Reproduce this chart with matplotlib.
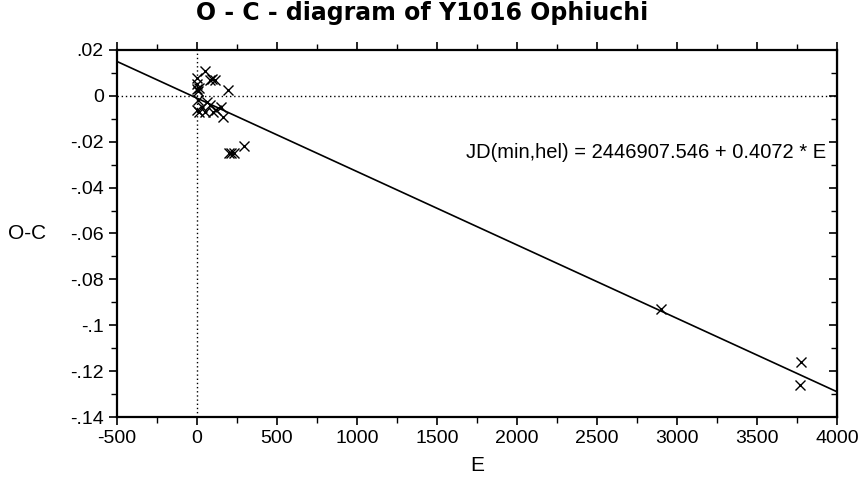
import matplotlib
matplotlib.use("Agg")
import matplotlib.pyplot as plt
import numpy as np

plt.rcParams['font.family'] = ['Liberation Sans', 'DejaVu Sans']

# Data
epoch = [0, 0, 0, 5, 5, 0, 10, 50, 80, 95, 110, 195, 60, 80, 50, 30, 100,
         150, 160, 120, 10, 200, 215, 230, 295, 2900, 3775, 3770]
o_c = [0.003, 0.005, 0.008, 0.002, -0.002, -0.006, -0.007, 0.011, 0.007,
       0.0075, 0.007, 0.0025, -0.0025, -0.004, -0.007, -0.005, -0.007,
       -0.005, -0.009, -0.006, 0.0035, -0.025, -0.025, -0.025, -0.022,
       -0.093, -0.116, -0.126]
fit_intercept = -0.001
fit_slope = -3.2e-5
x_ticks = [-500, 0, 500, 1000, 1500, 2000, 2500, 3000, 3500, 4000]
y_ticks = [0.02, 0, -0.02, -0.04, -0.06, -0.08, -0.1, -0.12, -0.14]
y_tick_labels = [".02", "0", "-.02", "-.04", "-.06", "-.08", "-.1", "-.12", "-.14"]

fig = plt.figure(figsize=(8.58, 4.79), dpi=100)
ax = fig.add_axes([117/858, 1-417/479, 720/858, 367/479])

ax.set_xlim(-500, 4000)
ax.set_ylim(-0.14, 0.02)

# reference lines
ax.axhline(0, color='black', lw=1, ls=(0, (1, 2)))
ax.axvline(0, color='black', lw=1, ls=(0, (1, 2)))

# fit line
xl = np.array(ax.get_xlim())
ax.plot(xl, fit_intercept + fit_slope * xl, color='black', lw=1.2)

ax.plot(epoch, o_c, ls='none', marker='x', color='black', ms=7.5, mew=1.0)

ax.set_xticks(x_ticks)
ax.set_xticklabels([str(v) for v in x_ticks])
ax.set_yticks(y_ticks)
ax.set_yticklabels(y_tick_labels)
ax.set_xticks(np.arange(-250, 4000, 500), minor=True)
ax.set_yticks(np.arange(-0.13, 0.02, 0.02), minor=True)

ax.tick_params(axis='both', which='major', direction='out', length=6, width=1.2,
               labelsize=14, top=True)
ax.tick_params(axis='both', which='minor', direction='out', length=4, width=1,
               top=True)
for s in ax.spines.values():
    s.set_linewidth(1.6)

sec = ax.secondary_yaxis('right')
sec.set_yticks(y_ticks)
sec.set_yticks(np.arange(-0.13, 0.02, 0.02), minor=True)
sec.tick_params(which='major', direction='in', length=6, width=1.2, labelright=False)
sec.tick_params(which='minor', direction='in', length=4, width=1, labelright=False)

ax.set_xlabel("E", fontsize=15, labelpad=6)
ax.set_ylabel("O-C", fontsize=15, rotation=0, va='center')
ax.yaxis.set_label_coords(-0.125, 0.5)

fig.text(422/858, 1 - 13/479, "O - C - diagram of Y1016 Ophiuchi", ha='center', va='center',
         fontsize=17, fontweight='bold', family='DejaVu Sans')

ax.text(0.985, 0.72, "JD(min,hel) = 2446907.546 + 0.4072 * E", transform=ax.transAxes,
        ha='right', va='center', fontsize=14.5)

fig.savefig("out.png", dpi=100)
